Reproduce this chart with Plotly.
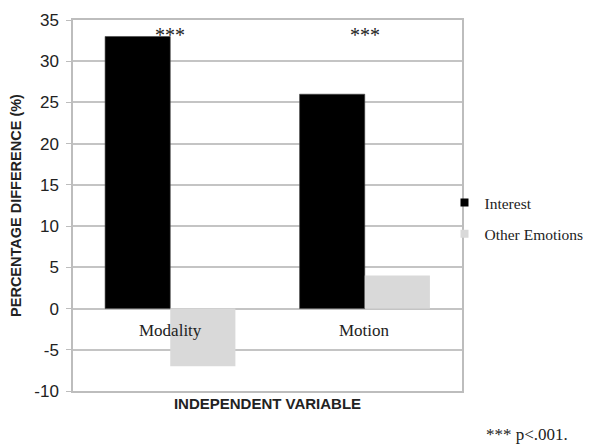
import plotly.graph_objects as go

categories = ["Modality", "Motion"]
interest = [33, 26]
other_emotions = [-7, 4]
significance = ["***", "***"]
sig_level = [33, 33]
y_ticks = [-10, -5, 0, 5, 10, 15, 20, 25, 30, 35]

BLACK = "#000000"
GREY = "#d9d9d9"

fig = go.Figure()
fig.add_trace(go.Bar(x=categories, y=interest, name="Interest", showlegend=False,
                     marker=dict(color=BLACK, line=dict(color="#444444", width=0.6))))
fig.add_trace(go.Bar(x=categories, y=other_emotions, name="Other Emotions", showlegend=False,
                     marker=dict(color=GREY, line=dict(width=0))))
# legend entries with small square swatches
for nm, col, grp in [("Interest", BLACK, "a"), ("Other Emotions", GREY, "b")]:
    fig.add_trace(go.Scatter(x=[None], y=[None], mode="markers", name=nm, legendgroup=grp,
                             marker=dict(symbol="square", size=8, color=col)))

annotations = []
for c, s, lv in zip(categories, significance, sig_level):
    annotations.append(dict(x=c, y=lv, text=s, showarrow=False, yanchor="bottom",
                            yshift=-12, font=dict(family="Liberation Serif", size=20, color="#222")))
for c in categories:
    annotations.append(dict(x=c, y=0, text=c, showarrow=False, yanchor="top", yshift=-10,
                            font=dict(family="Liberation Serif", size=17, color="#222")))
annotations.append(dict(x=1.0, xref="paper", xanchor="left", xshift=22,
                        y=0, yref="paper", yanchor="top", yshift=-32,
                        text="*** p<.001.", showarrow=False,
                        font=dict(family="Liberation Serif", size=17, color="#222")))

# the page body adds an 8px offset, so the figure is sized to fit the 591x446 window
fig.update_layout(
    width=583, height=438,
    margin=dict(l=65, r=129, t=12, b=55, autoexpand=False),
    paper_bgcolor="white", plot_bgcolor="white",
    barmode="group", bargap=0.33, bargroupgap=0,
    showlegend=True,
    legend=dict(x=0.955, xanchor="left", y=0.465, yanchor="middle",
                bgcolor="rgba(0,0,0,0)",
                font=dict(family="Liberation Serif", size=15.5, color="#222"),
                itemwidth=30, tracegroupgap=8),
    annotations=annotations,
    xaxis=dict(showticklabels=False, showgrid=False, showline=True, linecolor="#bdbdbd",
               mirror=True, linewidth=1.5,
               title=dict(text="<b>INDEPENDENT VARIABLE</b>", standoff=7,
                          font=dict(family="Liberation Sans", size=15, color="#222"))),
    yaxis=dict(range=[-10, 35], tickvals=y_ticks, ticktext=[str(v) for v in y_ticks],
               showgrid=True, gridcolor="#c4c4c4",
               gridwidth=1.5, zeroline=True, zerolinecolor="#c4c4c4", zerolinewidth=1.5,
               showline=True, linecolor="#bdbdbd", linewidth=1.5, mirror=True,
               ticks="outside", ticklen=5, tickcolor="#bdbdbd", ticklabelstandoff=4,
               tickfont=dict(family="Liberation Sans", size=17, color="#222"),
               title=dict(text="<b>PERCENTAGE DIFFERENCE (%)</b>", standoff=12,
                          font=dict(family="Liberation Sans", size=14.5, color="#222"))),
)

fig.write_html("out.html")
